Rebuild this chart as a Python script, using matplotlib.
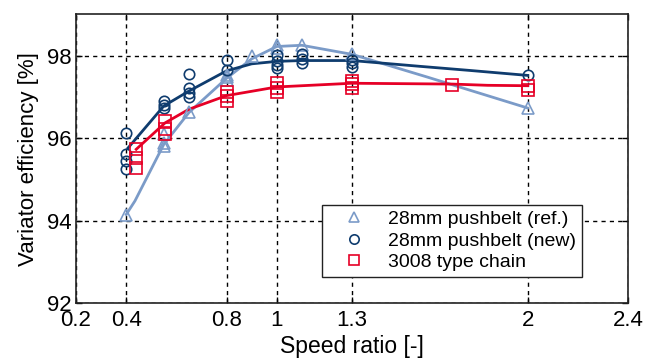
import matplotlib
matplotlib.use("Agg")
import matplotlib.pyplot as plt

plt.rcParams['font.family'] = ['Liberation Sans', 'DejaVu Sans']

# --- data: measured points ---
ref_x = [0.4, 0.55, 0.55, 0.55, 0.65, 0.8, 0.8, 0.8, 0.9, 1.0, 1.0, 1.1, 1.3, 2.0]
ref_y = [94.15, 96.09, 95.89, 95.81, 96.64, 97.54, 97.47, 97.41, 98.0, 98.26, 98.19, 98.26, 98.03, 96.73]

new_x = [0.4, 0.4, 0.4, 0.4, 0.55, 0.55, 0.55, 0.65, 0.65, 0.65, 0.65, 0.8, 0.8,
         1.0, 1.0, 1.0, 1.0, 1.1, 1.1, 1.1, 1.3, 1.3, 1.3, 2.0]
new_y = [96.13, 95.62, 95.45, 95.26, 96.89, 96.81, 96.72, 97.56, 97.21, 97.09, 96.99, 97.9, 97.66,
         98.02, 97.87, 97.76, 97.69, 98.03, 97.91, 97.81, 97.9, 97.81, 97.72, 97.52]

chain_x = [0.44, 0.44, 0.44, 0.555, 0.555, 0.555, 0.8, 0.8, 0.8, 1.0, 1.0, 1.0,
           1.3, 1.3, 1.3, 1.7, 2.0, 2.0]
chain_y = [95.73, 95.53, 95.27, 96.41, 96.21, 96.09, 97.13, 97.01, 96.89, 97.33, 97.21, 97.12,
           97.39, 97.3, 97.21, 97.29, 97.27, 97.17]

# --- data: fitted trend lines ---
ref_line_x = [0.4, 0.435, 0.55, 0.65, 0.8, 0.9, 1.0, 1.1, 1.3, 1.6, 2.0]
ref_line_y = [94.15, 94.48, 95.85, 96.62, 97.45, 97.92, 98.22, 98.25, 98.03, 97.48, 96.73]

new_line_x = [0.407, 0.55, 0.65, 0.8, 0.9, 1.0, 1.1, 1.3, 1.57, 1.77, 2.0]
new_line_y = [95.76, 96.78, 97.14, 97.63, 97.8, 97.86, 97.88, 97.88, 97.74, 97.64, 97.52]

chain_line_x = [0.44, 0.555, 0.65, 0.8, 1.0, 1.3, 1.7, 1.84, 2.0]
chain_line_y = [95.73, 96.37, 96.7, 97.03, 97.24, 97.33, 97.31, 97.28, 97.27]

xticks = [0.2, 0.4, 0.8, 1, 1.3, 2, 2.4]
xtick_labels = ['0.2', '0.4', '0.8', '1', '1.3', '2', '2.4']
yticks = [92, 94, 96, 98]

c_ref = '#7b9bc8'
c_new = '#0f3c6e'
c_chain = '#e60026'

fig = plt.figure(figsize=(6.48, 3.63), dpi=100)
ax = fig.add_axes([0.1173, 0.1645, 0.9691 - 0.1173, 0.9606 - 0.1645])

ax.plot(ref_line_x, ref_line_y, color=c_ref, lw=2.0, zorder=3)
ax.plot(new_line_x, new_line_y, color=c_new, lw=2.0, zorder=3)
ax.plot(chain_line_x, chain_line_y, color=c_chain, lw=2.0, zorder=3)

ax.plot(ref_x, ref_y, ls='none', marker='^', ms=8, mfc='none', mec=c_ref, mew=1.2,
        zorder=4, label='28mm pushbelt (ref.)')
ax.plot(new_x, new_y, ls='none', marker='o', ms=7.5, mfc='none', mec=c_new, mew=1.2,
        zorder=4, label='28mm pushbelt (new)')
ax.plot(chain_x, chain_y, ls='none', marker='s', ms=8, mfc='none', mec=c_chain, mew=1.2,
        zorder=4, label='3008 type chain')

ax.set_xlim(0.2, 2.4)
ax.set_ylim(92, 99)
ax.set_xticks(xticks)
ax.set_xticklabels(xtick_labels)
ax.set_yticks(yticks)
ax.tick_params(direction='in', labelsize=16, length=4, width=1, top=True, right=True)
ax.tick_params(axis='x', pad=5)
ax.tick_params(axis='y', pad=3)
ax.grid(True, color='black', ls=(0, (3, 3)), lw=1.0)
for s in ax.spines.values():
    s.set_linewidth(1.2)
    s.set_color('#222222')

ax.set_xlabel('Speed ratio [-]', fontsize=16.5, labelpad=3)
ax.set_ylabel('Variator efficiency [%]', fontsize=16, labelpad=6)

leg = ax.legend(loc='lower right', bbox_to_anchor=(0.9167, 0.091), fontsize=14,
                frameon=True, fancybox=False, edgecolor='#222222', framealpha=1,
                handletextpad=0.4, borderpad=0.3, labelspacing=0.2, handlelength=2.7,
                borderaxespad=0, markerscale=0.9)
leg.get_frame().set_linewidth(1.0)

fig.savefig('out.png', dpi=100)
